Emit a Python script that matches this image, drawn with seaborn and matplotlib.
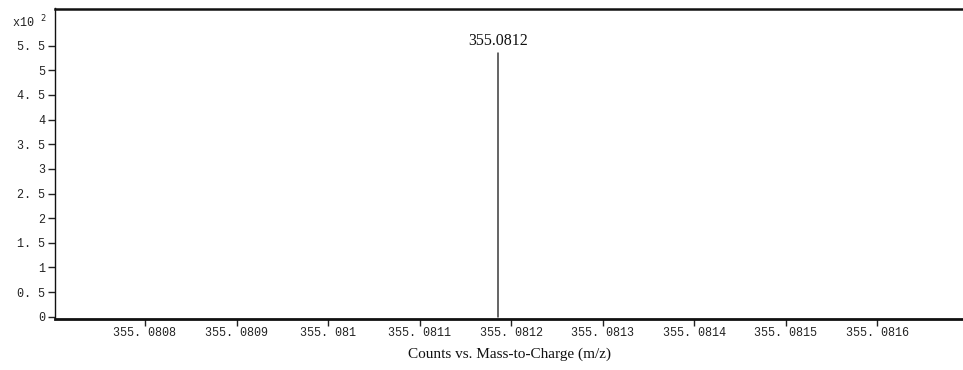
import matplotlib
matplotlib.use("Agg")
import matplotlib.pyplot as plt
import seaborn as sns
import pandas as pd
import numpy as np

# Centroided peak list (m/z, counts x10^2)
peak_mz = [355.081186]
peak_counts = [5.35]
peak_labels = ["355.0812"]

x_ticks = [355.0808, 355.0809, 355.0810, 355.0811, 355.0812,
           355.0813, 355.0814, 355.0815, 355.0816]
x_tick_labels = ["355. 0808", "355. 0809", "355. 081", "355. 0811", "355. 0812",
                 "355. 0813", "355. 0814", "355. 0815", "355. 0816"]
y_ticks = [0, 0.5, 1, 1.5, 2, 2.5, 3, 3.5, 4, 4.5, 5, 5.5]
y_tick_labels = ["0", "0. 5", "1", "1. 5", "2", "2. 5", "3", "3. 5",
                 "4", "4. 5", "5", "5. 5"]

sns.set_theme(style="white")
plt.rcParams["font.family"] = ["Liberation Mono", "DejaVu Sans"]

# Each stick as a two-point segment from the baseline up to its intensity
rows = []
for i, (mz, c) in enumerate(zip(peak_mz, peak_counts)):
    rows.append({"mz": mz, "counts": 0.0, "peak": i})
    rows.append({"mz": mz, "counts": c, "peak": i})
sticks = pd.DataFrame(rows)

fig = plt.figure(figsize=(9.63, 3.70), dpi=100)
ax = fig.add_axes([55 / 963, (370 - 319) / 370, (963 - 55) / 963, (319 - 8.5) / 370])

sns.lineplot(data=sticks, x="mz", y="counts", units="peak", estimator=None,
             color="#3a3a3a", linewidth=1.1, ax=ax, legend=False)

for mz, c, lab in zip(peak_mz, peak_counts, peak_labels):
    ax.annotate(lab, xy=(mz, c), xytext=(0, 3), textcoords="offset points",
                ha="center", va="bottom", fontsize=11.5,
                family=["Liberation Serif", "DejaVu Serif"], color="#111111")

ax.set_xlim(355.0807017, 355.0816935)
ax.set_ylim(-0.047, 6.255)

ax.set_xticks(x_ticks)
ax.set_xticklabels(x_tick_labels)
ax.set_yticks(y_ticks)
ax.set_yticklabels(y_tick_labels)
ax.tick_params(axis="both", which="major", direction="out", length=5, width=1,
               color="#222222", labelsize=8.5, labelcolor="#222222", pad=2,
               bottom=True, left=True)
ax.tick_params(axis="x", pad=1)

ax.spines["right"].set_visible(False)
ax.spines["left"].set_linewidth(1.0)
ax.spines["left"].set_color("#111111")
ax.spines["top"].set_linewidth(1.8)
ax.spines["top"].set_color("#111111")
ax.spines["bottom"].set_linewidth(2.0)
ax.spines["bottom"].set_color("#111111")

ax.set_xlabel("Counts vs. Mass-to-Charge (m/z)", fontsize=11,
              family=["Liberation Serif", "DejaVu Serif"], color="#111111", labelpad=6)
ax.set_ylabel("")

fig.text(12 / 963, 1 - 22 / 370, "x10 $^{2}$", fontsize=8.5, color="#222222",
         ha="left", va="center", family=["Liberation Mono", "DejaVu Sans"])

fig.savefig("out.png", dpi=100)
